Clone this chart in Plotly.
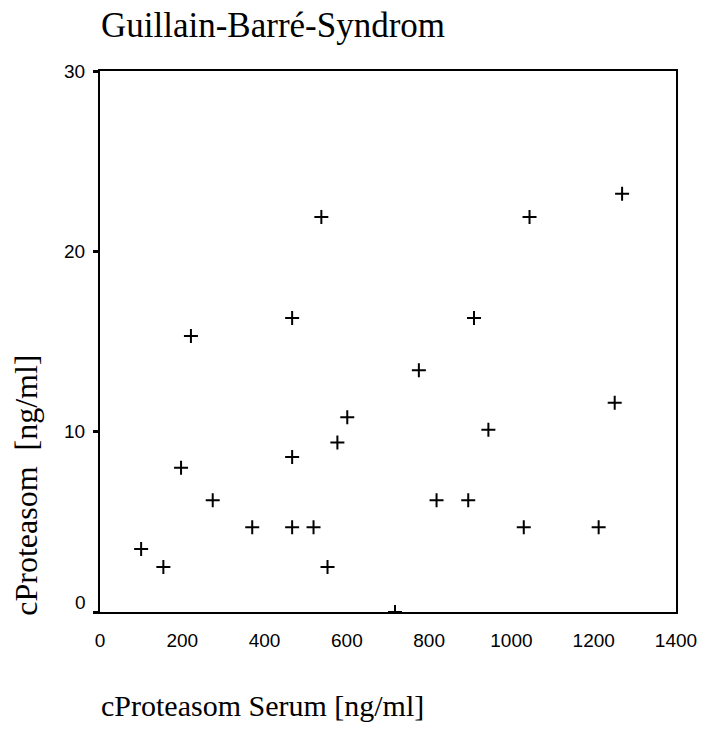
import plotly.graph_objects as go

# Data
serum = [100, 154, 197, 274, 370, 467, 467, 519, 553, 577, 601, 717,
         944, 818, 895, 1030, 1212, 1251, 1269, 1044, 909, 775, 538, 467, 221]
csf = [3.5, 2.5, 8.0, 6.2, 4.7, 4.7, 8.6, 4.7, 2.5, 9.4, 10.8, 0.0,
       10.1, 6.2, 6.2, 4.7, 4.7, 11.6, 23.2, 21.9, 16.3, 13.4, 21.9, 16.3, 15.3]

x_ticks = [0, 200, 400, 600, 800, 1000, 1200, 1400]
y_ticks = [0, 10, 20, 30]
y_ticktext = ["", "10", "20", "30"]

title_text = "Guillain-Barré-Syndrom"
x_title = "cProteasom Serum [ng/ml]"
y_title = "cProteasom  [ng/ml]"

W, H = 709, 729
L, R, T, B = 100, 27, 71, 117
pw, ph = W - L - R, H - T - B

def px_x(p):
    return (p - L) / pw

def px_y(p):
    return (H - B - p) / ph

serif = "Liberation Serif, Times New Roman, serif"
sans = "Liberation Sans, Arial, sans-serif"
TICK = 19

fig = go.Figure(go.Scatter(
    x=serum, y=csf, mode="markers",
    marker=dict(symbol="cross-thin", size=10, color="black",
                line=dict(width=2, color="black")),
    showlegend=False,
))

fig.update_layout(
    width=W, height=H,
    margin=dict(l=L, r=R, t=T, b=B),
    paper_bgcolor="white", plot_bgcolor="white",
    font=dict(family=sans, size=TICK, color="black"),
    xaxis=dict(range=[0, 1400], tickvals=x_ticks, ticks="", showgrid=False,
               zeroline=False, showline=True, mirror=True, linewidth=2,
               linecolor="black", ticklabelstandoff=10,
               tickfont=dict(family=sans, size=TICK, color="black")),
    yaxis=dict(range=[0, 30], tickvals=y_ticks, ticktext=y_ticktext,
               ticks="outside", ticklen=5, tickwidth=3, tickcolor="black",
               showgrid=False, zeroline=False, showline=True, mirror=True,
               linewidth=2, linecolor="black", ticklabelstandoff=4,
               tickfont=dict(family=sans, size=TICK, color="black")),
    annotations=[
        dict(text=title_text, xref="paper", yref="paper", x=px_x(99), y=px_y(25),
             xanchor="left", yanchor="middle", showarrow=False,
             font=dict(family=serif, size=35, color="black")),
        dict(text=x_title, xref="paper", yref="paper", x=px_x(99), y=px_y(705),
             xanchor="left", yanchor="middle", showarrow=False,
             font=dict(family=serif, size=30, color="black")),
        dict(text=y_title, xref="paper", yref="paper", x=px_x(25), y=px_y(485),
             xanchor="center", yanchor="middle", textangle=-90, showarrow=False,
             font=dict(family=serif, size=32, color="black")),
        dict(text="0", xref="paper", yref="paper", x=px_x(88), y=px_y(602),
             xanchor="right", yanchor="middle", showarrow=False,
             font=dict(family=sans, size=TICK, color="black")),
    ],
)

fig.write_html("out.html")
